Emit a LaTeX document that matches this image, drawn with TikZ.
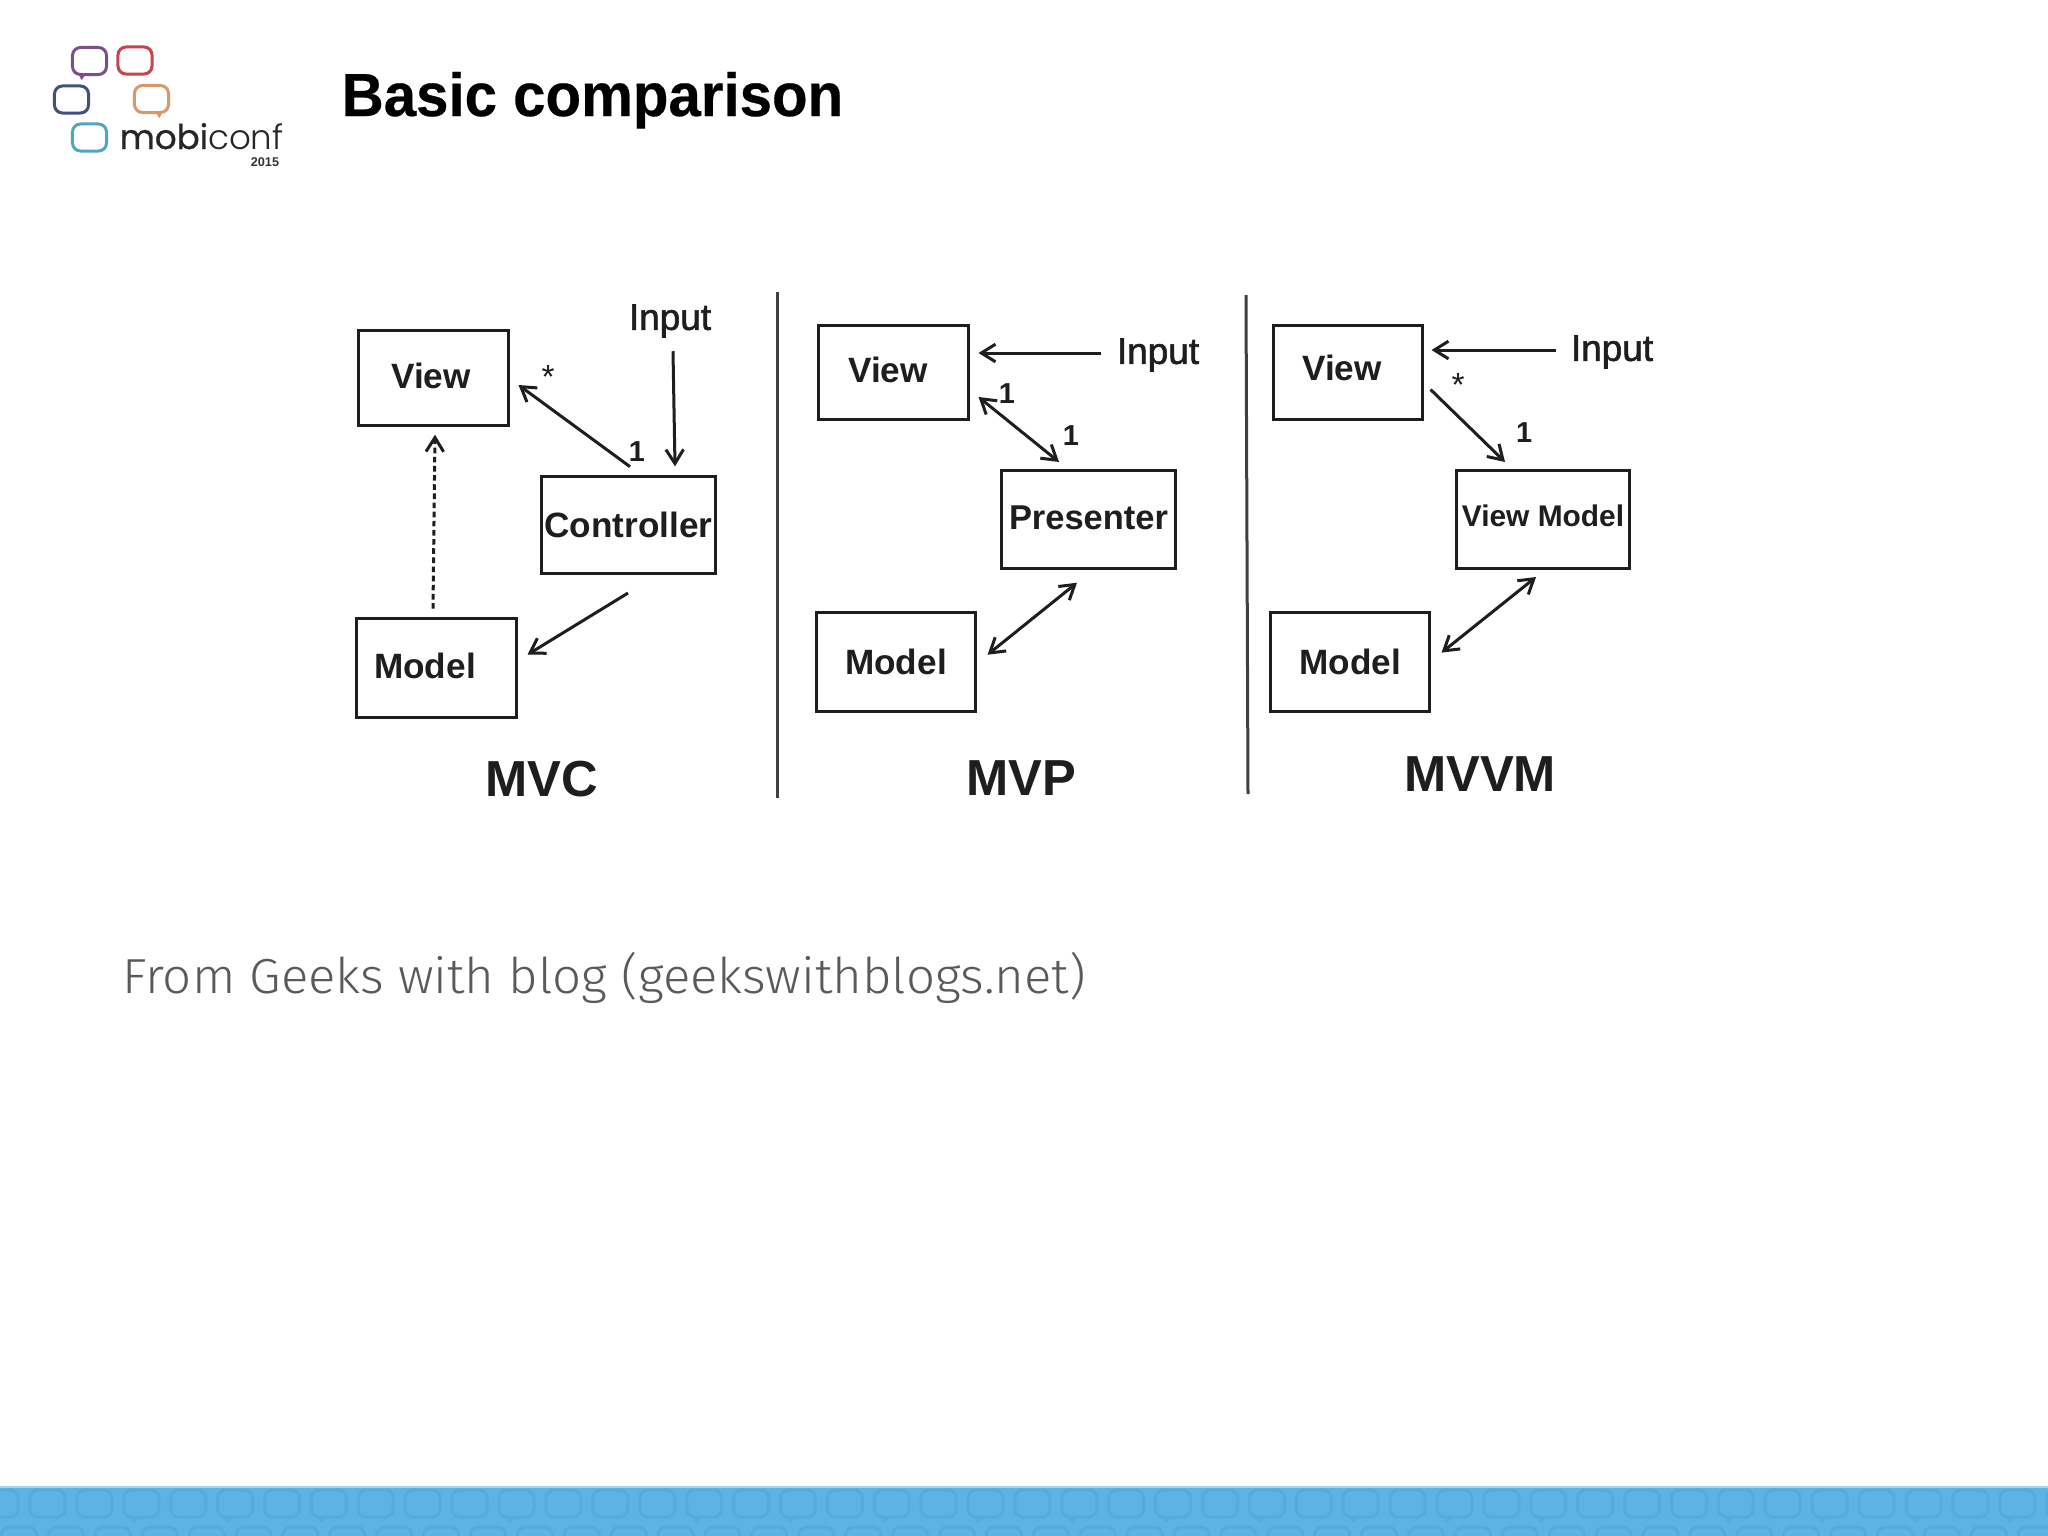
\documentclass[tikz,border=0pt]{standalone}
\usepackage{xcolor}
\usepackage{fontspec}
\usepackage{tikz}
\usetikzlibrary{arrows.meta, calc}
\setmainfont{Liberation Sans}
\newfontfamily\titlefont[FakeStretch=0.957,FakeBold=0.4]{Liberation Sans Bold}
\newfontfamily\capfont[FakeStretch=1.035]{Fira Sans Light}
\newfontfamily\logofont[FakeBold=0.8]{Poppins}
\newfontfamily\logothinfont{Poppins Light}
\newfontfamily\inputfont[FakeBold=1.6]{Liberation Sans}
\definecolor{inkgray}{HTML}{1E1E1E}
\definecolor{capgray}{HTML}{5A5A5A}
\definecolor{bandblue}{HTML}{5DB3E4}
\definecolor{tileblue}{HTML}{54ABDD}
\definecolor{bandedge}{HTML}{A6D5F0}
\definecolor{logopurple}{HTML}{7B4F8E}
\definecolor{logored}{HTML}{C8424F}
\definecolor{logonavy}{HTML}{41507F}
\definecolor{logoorange}{HTML}{D9976A}
\definecolor{logocyan}{HTML}{4FA6C3}
\tikzset{
    labelbox/.style={draw=inkgray, line width=0.03cm, inner sep=0pt, text=inkgray,
          font=\fontsize{10}{12}\selectfont\bfseries},
    tagtext/.style={inner sep=0pt, text=inkgray, font=\fontsize{8.2}{10}\selectfont\bfseries},
    startext/.style={inner sep=0pt, text=inkgray, font=\fontsize{9.5}{10}\selectfont},
    inputtext/.style={inner sep=0pt, text=inkgray, font=\fontsize{10.5}{12}\inputfont},
    nametext/.style={inner sep=0pt, text=inkgray, font=\fontsize{14.4}{16}\selectfont\bfseries},
    linkline/.style={draw=inkgray, line width=0.03cm, -{Straight Barb[length=4pt, width=5pt]}},
    bothline/.style={linkline, {Straight Barb[length=4pt, width=5pt]}-{Straight Barb[length=4pt, width=5pt]}},
    splitrule/.style={draw=inkgray!85, line width=0.03cm},
    bubble/.style={draw, line width=0.03cm, rounded corners=0.08cm, inner sep=0pt,
          minimum width=0.34cm, minimum height=0.27cm},
    tile/.style={draw=tileblue, line width=0.03cm, rounded corners=0.08cm}
}

\begin{document}
\begin{tikzpicture}[x=0.01cm, y=-0.01cm]
    \useasboundingbox (0,0) rectangle (2048,1536);
    \fill[white] (0,0) rectangle (2048,1536);

    \node[bubble, draw=logopurple] (bubblea) at (89.5,61) {};
    \node[bubble, draw=logored] (bubbleb) at (135,60.5) {};
    \node[bubble, draw=logonavy] (bubblec) at (71.5,99.5) {};
    \node[bubble, draw=logoorange] (bubbled) at (151.5,99) {};
    \node[bubble, draw=logocyan] (bubblee) at (89.5,137.5) {};
    \fill[logopurple] ([shift={(-10,0)}]bubblea.south) -- ([shift={(-5,0)}]bubblea.south) -- ([shift={(-8,4)}]bubblea.south) -- cycle;
    \fill[logoorange] ([shift={(5,0)}]bubbled.south) -- ([shift={(10,0)}]bubbled.south) -- ([shift={(8,4)}]bubbled.south) -- cycle;
    \node[anchor=base west, inner sep=0pt, text=black!85, font=\fontsize{9.7}{12}\selectfont] (logoname) at (119,149)
        {{\logofont mobi}{\logothinfont conf}};
    \node[inner sep=0pt, text=black!80, font=\fontsize{3.6}{4}\selectfont\bfseries] (logoyear) at (265,162) {2015};

    \node[anchor=base west, inner sep=0pt, font=\fontsize{17.3}{20}\titlefont] (title) at (341,116) {Basic comparison};

    \node[labelbox, minimum width=1.49cm, minimum height=0.95cm] (mvcview) at (433.5,378) {\raisebox{0.05cm}{View}\kern0.05cm};
    \node[labelbox, minimum width=1.73cm, minimum height=0.97cm] (mvcctrl) at (628.5,525) {Controller};
    \node[labelbox, minimum width=1.59cm, minimum height=0.995cm] (mvcmodel) at (436.5,668) {\raisebox{0.05cm}{Model}\kern0.23cm};
    \node[inputtext] (mvcinput) at (670,321) {Input};
    \node[startext] (mvcstar) at (548,377) {*};
    \node[tagtext] (mvcone) at (637,452) {1};
    \node[nametext] (mvcname) at (542,779) {MVC};

    \draw[linkline] ([shift={(3,13)}]mvcinput.south) -- ([shift={(46.5,-8.6)}]mvcctrl.north);
    \draw[linkline] ([shift={(1.5,-8.3)}]mvcctrl.north) -- ([shift={(9,7)}]mvcview.east);
    \draw[linkline, dash pattern=on 1.6pt off 1pt] ([shift={(-3.5,-8)}]mvcmodel.north) -- ([shift={(1.5,7.7)}]mvcview.south);
    \draw[linkline] ([shift={(-0.5,18)}]mvcctrl.south) -- ([shift={(10,-13.4)}]mvcmodel.east);

    \coordinate (ruleatop) at (777,292);
    \coordinate (ruleabot) at (777,798);
    \draw[splitrule] (ruleatop) -- (ruleabot);

    \node[labelbox, minimum width=1.49cm, minimum height=0.94cm] (mvpview) at (893.5,372.5) {\raisebox{0.05cm}{View}\kern0.11cm};
    \node[labelbox, minimum width=1.73cm, minimum height=0.98cm] (mvppres) at (1088.5,519.5) {\raisebox{0.03cm}{\fontsize{9.8}{12}\selectfont Presenter}};
    \node[labelbox, minimum width=1.58cm, minimum height=0.985cm] (mvpmodel) at (896,662) {Model};
    \node[inputtext] (mvpinput) at (1158,355) {Input};
    \node[tagtext] (mvpupper) at (1007,393.6) {1};
    \node[tagtext] (mvplower) at (1071,436) {1};
    \node[nametext] (mvpname) at (1021,778) {MVP};

    \draw[linkline] ([shift={(-15,-2)}]mvpinput.west) -- ([shift={(9,-19.5)}]mvpview.east);
    \draw[bothline] ([shift={(9,24.5)}]mvpview.east) -- ([shift={(-29.5,-7)}]mvppres.north);
    \draw[bothline] ([shift={(-11.5,12.7)}]mvppres.south) -- ([shift={(11,-7.3)}]mvpmodel.east);

    \coordinate (rulebtop) at (1246,295);
    \coordinate (rulebbot) at (1248,794);
    \draw[splitrule] (rulebtop) -- (rulebbot);

    \node[labelbox, minimum width=1.48cm, minimum height=0.94cm] (mvvmview) at (1348,372.5) {\raisebox{0.1cm}{View}\kern0.12cm};
    \node[labelbox, minimum width=1.72cm, minimum height=0.98cm] (mvvmvm) at (1543,519.5) {\raisebox{0.07cm}{\fontsize{8.5}{12}\selectfont View Model}};
    \node[labelbox, minimum width=1.58cm, minimum height=0.985cm] (mvvmmodel) at (1350,662) {Model};
    \node[inputtext] (mvvminput) at (1612,352) {Input};
    \node[startext] (mvvmstar) at (1458,385.5) {*};
    \node[tagtext] (mvvmone) at (1524,433) {1};
    \node[nametext] (mvvmname) at (1480,774) {MVVM};

    \draw[linkline] ([shift={(-14,-2)}]mvvminput.west) -- ([shift={(8,-22.5)}]mvvmview.east);
    \draw[linkline] ([shift={(7,17)}]mvvmview.east) -- ([shift={(-38,-7)}]mvvmvm.north);
    \draw[bothline] ([shift={(-7,7)}]mvvmvm.south) -- ([shift={(11,-9.4)}]mvvmmodel.east);

    \node[anchor=base west, inner sep=0pt, text=capgray, font=\fontsize{14}{16}\capfont] (caption) at (122,993)
        {From Geeks with blog (geekswithblogs.net)};

    \fill[bandblue] (0,1487) rectangle (2048,1536);
    \draw[bandedge, line width=0.015cm] (0,1487) -- (2048,1487);
    \foreach \i in {-1,...,43} {
        \draw[tile] ({30+46.9*\i},1490) rectangle ({65+46.9*\i},1517);
        \draw[tile] ({1.5+46.9*\i},1527) rectangle ({36.5+46.9*\i},1556);
    }
    \foreach \i in {2,4,6,10,14,16,18,20,22,24,26,28,30,32,36,38,40,42} {
        \fill[tileblue] ({37+46.9*\i},1518) -- ({45+46.9*\i},1518) -- ({40+46.9*\i},1523) -- cycle;
    }
\end{tikzpicture}
\end{document}
